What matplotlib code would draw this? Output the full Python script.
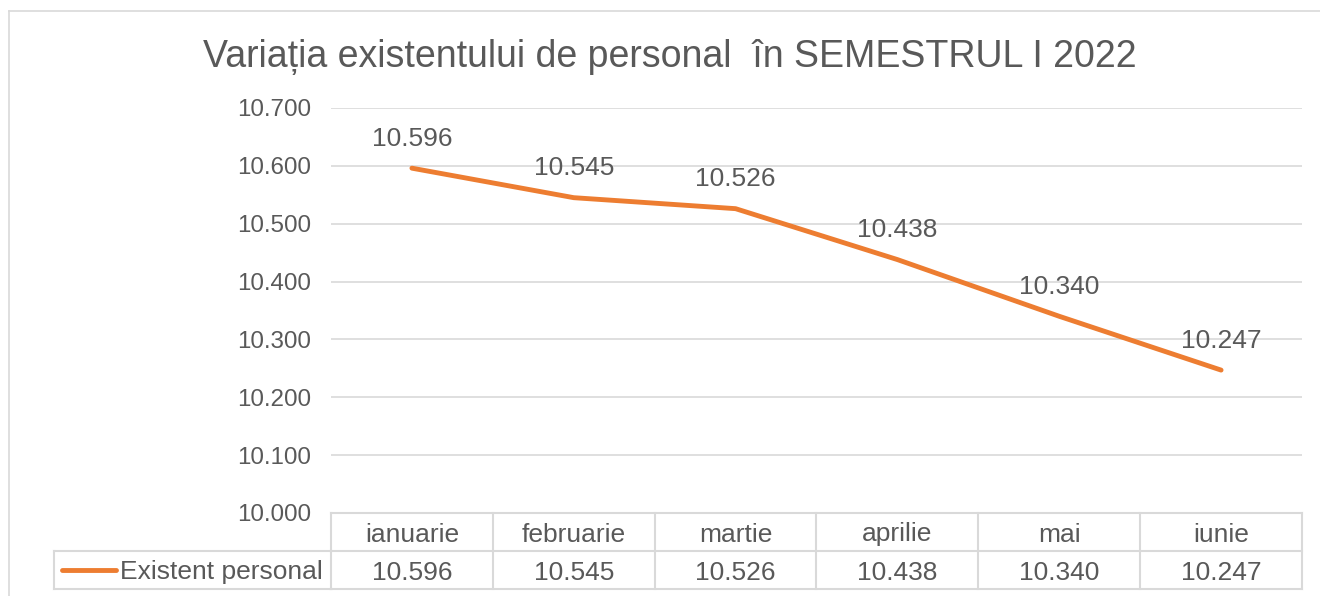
import matplotlib.pyplot as plt
from matplotlib.lines import Line2D

plt.rcParams['font.family'] = ['Liberation Sans', 'DejaVu Sans']

# Data
months = ["ianuarie", "februarie", "martie", "aprilie", "mai", "iunie"]
personal = [10596, 10545, 10526, 10438, 10340, 10247]
series_name = "Existent personal"
title = "Variația existentului de personal  în SEMESTRUL I 2022"

TXT = "#595959"
ORANGE = "#ED7D31"
GRID = "#D9D9D9"
W, H = 1320, 596


def fx(px):
    return px / W


def fy(py):
    return 1 - py / H


def fmt(v):
    return f"{v / 1000:.3f}"


fig = plt.figure(figsize=(13.2, 5.96), dpi=100)

# chart border (cut off at right and bottom)
fig.add_artist(Line2D([fx(9), 1], [fy(11), fy(11)], color=GRID, lw=1.2))
fig.add_artist(Line2D([fx(9), fx(9)], [0, fy(11)], color=GRID, lw=1.2))

left, right, top, bottom = 331, 1302, 108, 513
ax = fig.add_axes([fx(left), fy(bottom), fx(right - left), (bottom - top) / H])

x = list(range(len(months)))
yvals = [v / 1000 for v in personal]
ax.plot(x, yvals, color=ORANGE, lw=3.5, solid_capstyle="round", zorder=3)
for xi, yi, v in zip(x, yvals, personal):
    ax.annotate(fmt(v), (xi, yi), xytext=(0, 23), textcoords="offset points",
                ha="center", va="center_baseline", fontsize=19, color=TXT)

ax.set_xlim(-0.5, len(months) - 0.5)
ax.set_ylim(10.0, 10.7)
yticks = [10.0 + 0.1 * i for i in range(8)]
ax.set_yticks(yticks)
ax.set_yticklabels([f"{t:.3f}" for t in yticks])
ax.set_xticks([])
ax.tick_params(axis="y", length=0, pad=14.5, labelsize=17.4, labelcolor=TXT)
ax.grid(axis="y", color=GRID, lw=1.2)
ax.set_axisbelow(True)
for s in ax.spines.values():
    s.set_visible(False)

fig.text(fx(670), fy(57), title, ha="center", va="center", fontsize=27, color=TXT)

# data table below the plot
tab_top, tab_mid, tab_bot = 513, 551, 589
leg_left = 54
tax = fig.add_axes([fx(left), fy(tab_bot), fx(right - left), (tab_bot - tab_top) / H])
tax.set_xlim(-0.5, len(months) - 0.5)
tax.set_ylim(0, 2)
tax.axis("off")

# horizontal lines
for yl in [0, 1, 2]:
    tax.plot([-0.5, len(months) - 0.5], [yl, yl], color=GRID, lw=1.5, clip_on=False)
# legend cell lines (figure coords)
fig.add_artist(Line2D([fx(leg_left), fx(left)], [fy(tab_mid), fy(tab_mid)], color=GRID, lw=1.5))
fig.add_artist(Line2D([fx(leg_left), fx(left)], [fy(tab_bot), fy(tab_bot)], color=GRID, lw=1.5))
fig.add_artist(Line2D([fx(leg_left), fx(leg_left)], [fy(tab_bot), fy(tab_mid)], color=GRID, lw=1.5))
# vertical lines
for b in range(len(months) + 1):
    tax.plot([b - 0.5, b - 0.5], [0, 2], color=GRID, lw=1.5, clip_on=False)

for xi, m, v in zip(x, months, personal):
    tax.text(xi, 1.5, m, ha="center", va="center_baseline", fontsize=19, color=TXT)
    tax.text(xi, 0.5, fmt(v), ha="center", va="center_baseline", fontsize=19, color=TXT)

fig.add_artist(Line2D([fx(62), fx(116)], [fy(570), fy(570)], color=ORANGE, lw=3.5,
                      solid_capstyle="round"))
fig.text(fx(120), fy(570), series_name, ha="left", va="center_baseline", fontsize=19, color=TXT)

fig.savefig("out.png", dpi=100, facecolor="white")
